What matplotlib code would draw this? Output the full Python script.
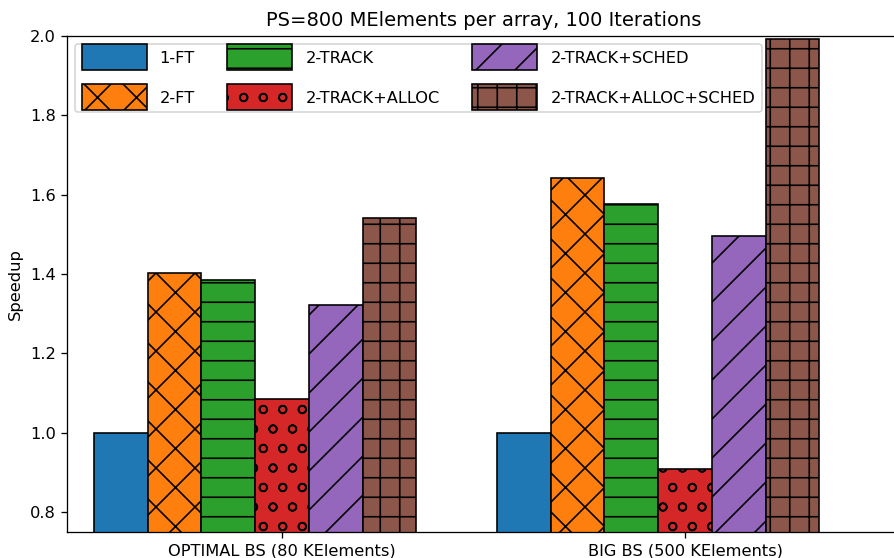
import matplotlib
matplotlib.use("Agg")
import matplotlib.pyplot as plt
import numpy as np
from matplotlib.patches import Rectangle
from matplotlib.legend_handler import HandlerPatch

# Data
groups = ["OPTIMAL BS (80 KElements)", "BIG BS (500 KElements)"]
series = ["1-FT", "2-FT", "2-TRACK", "2-TRACK+ALLOC", "2-TRACK+SCHED",
          "2-TRACK+ALLOC+SCHED"]
ft1 = [1.0, 1.0]
ft2 = [1.403, 1.643]
track = [1.385, 1.577]
track_alloc = [1.084, 0.910]
track_sched = [1.322, 1.496]
track_alloc_sched = [1.542, 1.992]
values = [ft1, ft2, track, track_alloc, track_sched, track_alloc_sched]

colors = ["#1f77b4", "#ff7f0e", "#2ca02c", "#d62728", "#9467bd", "#8c564b"]
hatches = ["", "x", "-", "o", "/", "+"]

DPI = 117
fig = plt.figure(figsize=(894.01 / DPI, 558.01 / DPI), dpi=DPI)
ax = fig.add_axes([67 / 894, 26 / 558, 833 / 894, 496 / 558])

x = np.arange(len(groups))
width = 0.8 / len(series)
for i, (name, vals) in enumerate(zip(series, values)):
    ax.bar(x + (i - 3) * width, vals, width, label=name, color=colors[i],
           hatch=hatches[i], edgecolor="black", linewidth=1.0)

ax.set_xticks(x)
ax.set_xticklabels(groups)
ax.set_xlim(-0.5333, 1.5333)
ax.set_ylim(0.75, 2.0)
ax.set_yticks(np.arange(0.8, 2.01, 0.2))
ax.set_ylabel("Speedup")
ax.set_title("PS=800 MElements per array, 100 Iterations")


class TallPatchHandler(HandlerPatch):
    """Legend key drawn taller than its layout box."""
    def create_artists(self, legend, orig_handle, xdescent, ydescent,
                       width, height, fontsize, trans):
        h = 1.62 * fontsize
        y0 = -ydescent + height / 2 - h / 2
        p = Rectangle((-xdescent, y0), width, h)
        self.update_prop(p, orig_handle, legend)
        p.set_transform(trans)
        return [p]


handles, labels = ax.get_legend_handles_labels()
handles = [h.patches[0] for h in handles]
ax.legend(handles, labels, loc="upper left", ncol=3, handlelength=4.0,
          labelspacing=1.55,
          handler_map={Rectangle: TallPatchHandler()})

fig.savefig("out.png", dpi=DPI)
